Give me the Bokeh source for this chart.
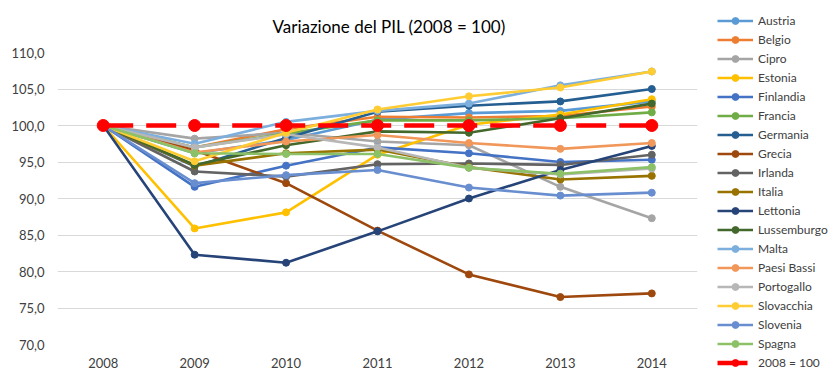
from bokeh.plotting import figure
from bokeh.models import Range1d, FixedTicker, Legend, LegendItem
from bokeh.embed import file_html
from bokeh.resources import INLINE

years = [2008, 2009, 2010, 2011, 2012, 2013, 2014]
y_ticks = [70, 75, 80, 85, 90, 95, 100, 105, 110]
y_tick_labels = ["70,0", "75,0", "80,0", "85,0", "90,0", "95,0", "100,0", "105,0", "110,0"]

names = ["Austria", "Belgio", "Cipro", "Estonia", "Finlandia", "Francia", "Germania",
         "Grecia", "Irlanda", "Italia", "Lettonia", "Lussemburgo", "Malta", "Paesi Bassi",
         "Portogallo", "Slovacchia", "Slovenia", "Spagna"]

austria     = [100, 96.2, 98.0, 100.8, 101.7, 102.0, 103.3]
belgio      = [100, 97.0, 99.5, 101.2, 101.1, 101.3, 102.6]
cipro       = [100, 98.2, 99.0, 97.8, 97.3, 91.6, 87.3]
estonia     = [100, 85.9, 88.1, 96.0, 100.1, 101.5, 103.6]
finlandia   = [100, 91.6, 94.5, 97.0, 96.2, 95.0, 95.3]
francia     = [100, 97.0, 98.9, 100.7, 100.7, 101.0, 101.8]
germania    = [100, 94.4, 98.3, 101.9, 102.7, 103.3, 105.0]
grecia      = [100, 96.6, 92.1, 85.6, 79.6, 76.5, 77.0]
irlanda     = [100, 93.7, 93.0, 94.7, 94.8, 94.6, 96.0]
italia      = [100, 94.5, 96.2, 96.7, 94.3, 92.6, 93.1]
lettonia    = [100, 82.3, 81.2, 85.5, 90.0, 93.9, 97.2]
lussemburgo = [100, 94.6, 97.3, 99.2, 99.0, 101.0, 103.0]
malta       = [100, 97.5, 100.5, 102.0, 103.0, 105.5, 107.4]
paesi_bassi = [100, 96.3, 97.8, 98.7, 97.6, 96.8, 97.6]
portogallo  = [100, 97.0, 98.8, 97.0, 94.2, 93.3, 94.1]
slovacchia  = [100, 95.1, 99.0, 102.2, 104.0, 105.2, 107.4]
slovenia    = [100, 92.1, 93.2, 93.9, 91.5, 90.4, 90.8]
spagna      = [100, 96.2, 96.1, 96.1, 94.2, 93.4, 94.3]
base        = [100, 100, 100, 100, 100, 100, 100]
base_label = "2008 = 100"

series = [austria, belgio, cipro, estonia, finlandia, francia, germania, grecia, irlanda,
          italia, lettonia, lussemburgo, malta, paesi_bassi, portogallo, slovacchia,
          slovenia, spagna]
colors = ["#5B9BD5", "#ED7D31", "#A5A5A5", "#FFC000", "#4472C4", "#70AD47", "#255E91",
          "#9E480E", "#636363", "#997300", "#264478", "#43682B", "#7CAFDD", "#F1975A",
          "#B7B7B7", "#FFCD33", "#698ED0", "#8CC168"]

FONT = "Lato"

p = figure(frame_width=640, frame_height=292, output_backend="svg", toolbar_location=None,
           x_range=Range1d(2007.5, 2014.5), y_range=Range1d(70, 110),
           min_border_left=57, min_border_right=141, min_border_top=52, min_border_bottom=36,
           title="Variazione del PIL (2008 = 100)")
p.outline_line_color = None
p.title.align = "left"
p.title.vertical_align = "top"
p.title.text_font = FONT
p.title.text_font_size = "17px"
p.title.text_font_style = "normal"
p.title.text_color = "#000000"
p.title.offset = 215
p.title.standoff = 28

p.xgrid.visible = False
p.ygrid.grid_line_color = "#D9D9D9"
p.ygrid.ticker = FixedTicker(ticks=y_ticks)

p.xaxis.ticker = FixedTicker(ticks=years)
p.yaxis.ticker = FixedTicker(ticks=y_ticks)
p.yaxis.major_label_overrides = {t: l for t, l in zip(y_ticks, y_tick_labels)}
for ax in (p.xaxis, p.yaxis):
    ax.axis_line_color = None
    ax.major_tick_line_color = None
    ax.minor_tick_line_color = None
    ax.major_label_text_font = FONT
    ax.major_label_text_font_size = "13px"
    ax.major_label_text_color = "#404040"
p.yaxis.major_label_standoff = 7
p.xaxis.major_label_standoff = 7

items = []
for name, vals, col in zip(names, series, colors):
    lr = p.line(years, vals, line_color=col, line_width=2.6)
    sr = p.scatter(years, vals, marker="circle", size=7, fill_color=col, line_color=col)
    items.append(LegendItem(label=name, renderers=[lr, sr]))

lr = p.line(years, base, line_color="#FF0000", line_width=4.5, line_dash="30 13")
sr = p.scatter(years, base, marker="circle", size=12, fill_color="#FF0000", line_color="#FF0000")
items.append(LegendItem(label=base_label, renderers=[lr, sr]))

legend = Legend(items=items, location=(20, -27), orientation="vertical",
                glyph_width=36, glyph_height=17, label_height=17, spacing=2,
                label_standoff=5, padding=0, margin=0,
                border_line_color=None, background_fill_alpha=0,
                label_text_font=FONT, label_text_font_size="12px",
                label_text_color="#404040")
p.add_layout(legend, "right")

open("out.html", "w").write(file_html(p, INLINE))
